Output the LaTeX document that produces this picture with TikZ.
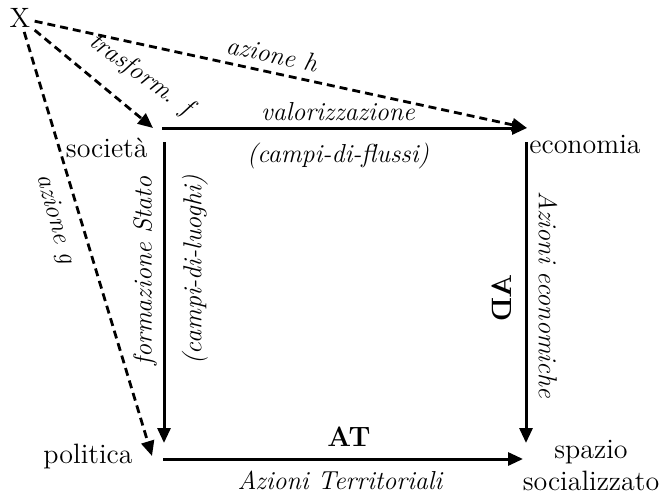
\documentclass[tikz,border=0pt]{standalone}
\usepackage{fontspec}
\usetikzlibrary{arrows.meta,positioning}

\begin{document}
\begin{tikzpicture}[x=0.5pt,y=-0.5pt,>={Triangle[length=7.5pt,width=6.5pt]},
  txt/.style={font=\fontsize{14}{16}\selectfont,inner sep=1pt},
  itl/.style={font=\fontsize{13}{15}\selectfont\itshape,inner sep=1pt},
  bld/.style={font=\fontsize{14}{16}\selectfont\bfseries,inner sep=1pt},
  flow/.style={line width=1.5pt,->},
  dflow/.style={line width=1.4pt,->,dash pattern=on 4pt off 2.5pt}]
\useasboundingbox (0,0) rectangle (664,498);

% corner labels
\node[txt,inner sep=2pt] (x) at (20,18) {X};
\node[txt,anchor=base east] (soc) at (150,157) {società};
\node[txt,anchor=base west] (eco) at (527,153) {economia};
\node[txt,anchor=base east] (pol) at (135,463) {politica};
\node[txt,align=center] (spa) at (591,465) {spazio\\socializzato};

% arrow ends
\coordinate (topA) at (162,128);
\coordinate (topB) at (527,128);
\coordinate (leftA) at (164,142);
\coordinate (leftB) at (164,443);
\coordinate (rightA) at (526,142);
\coordinate (rightB) at (526,443);
\coordinate (botA) at (163,459);
\coordinate (botB) at (523,459);
\coordinate (fTip) at (153,128);
\coordinate (gTip) at (152,456);

% square of relations
\draw[flow] (topA) -- (topB);
\draw[flow] (leftA) -- (leftB);
\draw[flow] (rightA) -- (rightB);
\draw[flow] (botA) -- (botB);

% actions from X
\draw[dflow] (x) -- (fTip);
\draw[dflow] (x) -- (topB);
\draw[dflow] (x) -- (gTip);

\node[itl,rotate=-36] (trf) at (141,75) {trasform. f};
\node[itl,rotate=-12] (azh) at (272,54) {azione h};
\node[itl,rotate=-75] (azg) at (55,219) {azione g};
\node[itl] (val) at (338,112) {valorizzazione};
\node[itl] (cdf) at (338,156) {(campi-di-flussi)};
\node[itl,rotate=90] (fst) at (145,271) {formazione Stato};
\node[itl,rotate=90] (cdl) at (195,270) {(campi-di-luoghi)};
\node[bld,rotate=-90,yscale=-1] (ad) at (502,298) {AD};
\node[itl,rotate=-90] (aec) at (548,295) {Azioni economiche};
\node[bld] (at) at (349,437) {AT};
\node[itl] (ater) at (340,480) {Azioni Territoriali};
\end{tikzpicture}
\end{document}
